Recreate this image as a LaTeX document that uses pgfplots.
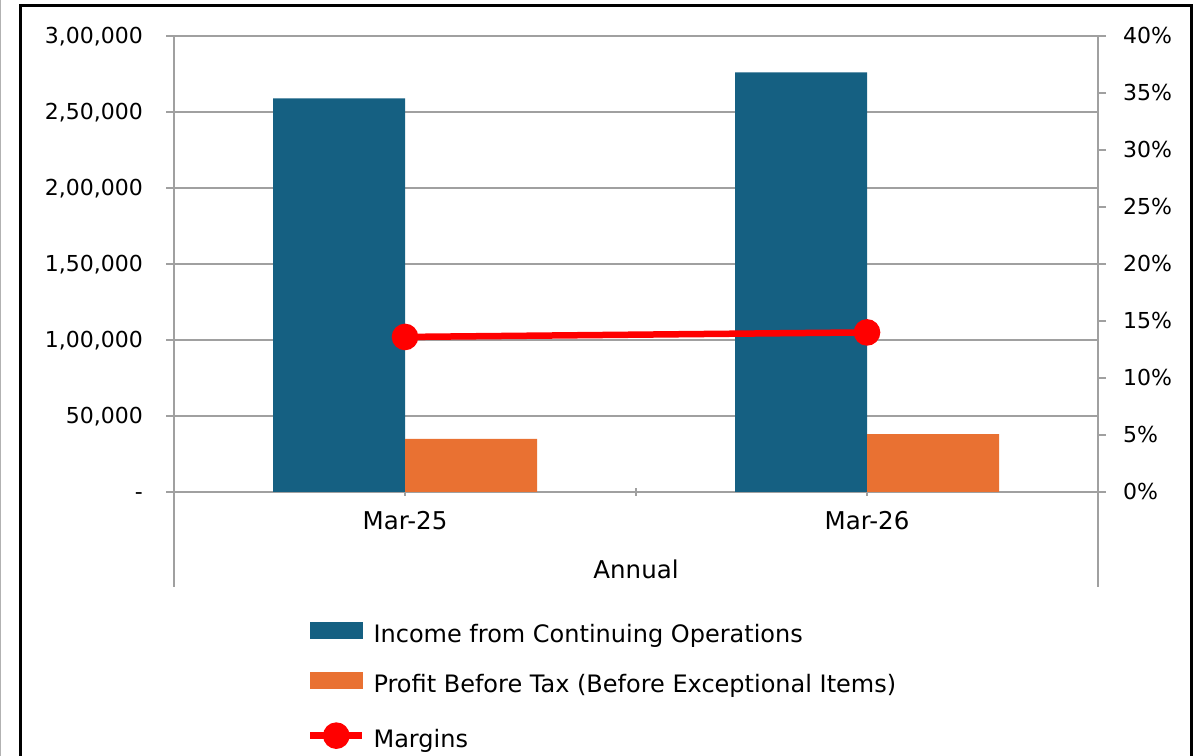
\documentclass[border=0pt]{standalone}
\usepackage{fontspec}
\setmainfont{DejaVu Sans}
\usepackage{pgfplots}
\pgfplotsset{compat=1.18}
\definecolor{cblue}{HTML}{156082}
\definecolor{corange}{HTML}{E97132}
\definecolor{axgray}{RGB}{160,160,160}
\begin{document}
\begin{tikzpicture}[x=1bp,y=1bp]
\useasboundingbox (0,0) rectangle (1203,756);
\draw[gray!60, line width=1bp] (0.5,0) -- (0.5,756);
\draw[black, line width=3bp] (20.5,0) -- (20.5,750) -- (1191,750) -- (1191,0);
\draw[axgray, line width=2bp] (174,264) -- (174,169);
\draw[axgray, line width=2bp] (1098,264) -- (1098,169);
\begin{axis}[at={(174bp,264bp)}, anchor=south west, scale only axis,
  width=924bp, height=456bp,
  xmin=-0.5, xmax=1.5, ymin=0, ymax=300000,
  scaled y ticks=false,
  axis x line*=bottom, axis y line*=left,
  axis line style={axgray, line width=2bp},
  tick align=outside, major tick length=8bp,
  major tick style={axgray, line width=2bp},
  xtick style={yshift=4bp},
  xtick={0,0.5,1}, xticklabels={Mar-25,,Mar-26},
  ytick={0,50000,100000,150000,200000,250000,300000},
  yticklabels={-,{50,000},{1,00,000},{1,50,000},{2,00,000},{2,50,000},{3,00,000}},
  ymajorgrids, grid style={axgray, line width=2bp},
  yticklabel style={font=\fontsize{22bp}{26bp}\selectfont, inner sep=0pt, text height=16bp, text depth=0bp, anchor=east, xshift=-23bp},
  xticklabel style={font=\fontsize{24.5bp}{28bp}\selectfont, inner sep=0pt, text height=18bp, text depth=5bp, anchor=north, yshift=-11bp},
  xlabel={Annual},
  xlabel style={font=\fontsize{24.5bp}{28bp}\selectfont, at={(axis description cs:0.5,-0.1908)}, anchor=base, inner sep=0pt},
  ybar, bar width=0.2857,
  clip=false,
]
\addplot[fill=cblue, draw=none, bar shift=-0.142857] coordinates {(0,259000) (1,276000)};
\addplot[fill=corange, draw=none, bar shift=0.142857] coordinates {(0,35000) (1,38000)};
\end{axis}
\begin{axis}[at={(174bp,264bp)}, anchor=south west, scale only axis,
  width=924bp, height=456bp,
  xmin=-0.5, xmax=1.5, ymin=0, ymax=40,
  axis x line=none, axis y line*=right,
  axis line style={axgray, line width=2bp},
  tick align=outside, major tick length=8bp,
  major tick style={axgray, line width=2bp},
  ytick={0,5,10,15,20,25,30,35,40},
  yticklabels={0\%,5\%,10\%,15\%,20\%,25\%,30\%,35\%,40\%},
  yticklabel style={font=\fontsize{22bp}{26bp}\selectfont, inner sep=0pt, text height=16bp, text depth=0bp, anchor=west, xshift=17bp},
  clip=false,
  legend cell align=left,
  legend style={at={(0.1440,-0.2851)}, anchor=north west, draw=none, fill=none,
    inner sep=0pt, outer sep=0pt, column sep=8bp, row sep=24.5bp,
    nodes={inner sep=0pt, text height=18bp, text depth=5bp},
    font=\fontsize{24bp}{28bp}\selectfont},
]
\addlegendimage{legend image code/.code={\fill[cblue] (0bp,-2bp) rectangle (52bp,14bp);}}
\addlegendentry{Income from Continuing Operations}
\addlegendimage{legend image code/.code={\fill[corange] (0bp,-2bp) rectangle (52bp,14bp);}}
\addlegendentry{Profit Before Tax (Before Exceptional Items)}
\addplot[red, line width=6.5bp, mark=*, mark size=10bp, mark options={solid, fill=red, draw=none},
  legend image code/.code={\draw[red, line width=6.5bp] (0bp,5bp)--(52bp,5bp); \fill[red] (26bp,5bp) circle (10bp);}]
  coordinates {(0,13.6) (1,14.0)};
\addlegendentry{Margins}
\end{axis}
\end{tikzpicture}
\end{document}
